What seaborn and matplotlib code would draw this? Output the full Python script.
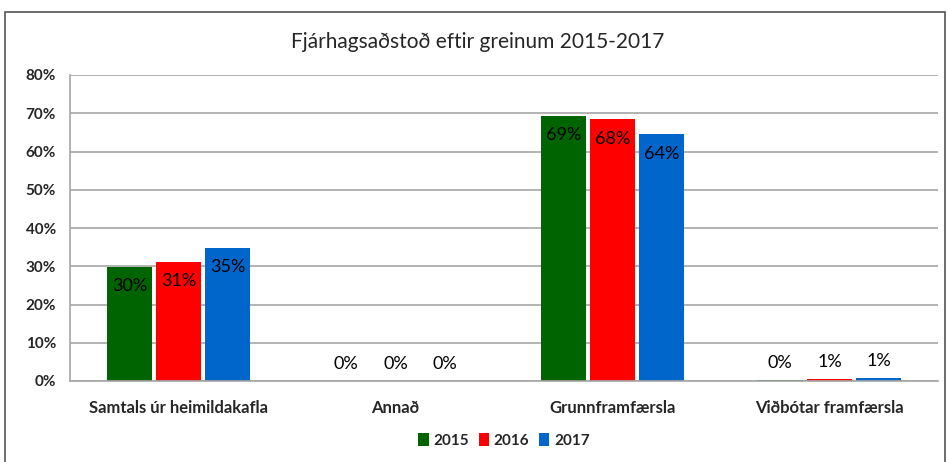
import matplotlib
matplotlib.use("Agg")
import matplotlib.pyplot as plt
import pandas as pd
import seaborn as sns
from matplotlib.patches import Rectangle
from matplotlib.ticker import PercentFormatter

sns.set_theme(style="white")
plt.rcParams['font.family'] = ['Lato', 'DejaVu Sans']

# gögn
flokkar = ['Samtals úr heimildakafla', 'Annað', 'Grunnframfærsla', 'Viðbótar framfærsla']
ar = ['2015', '2016', '2017']
gildi_2015 = [29.8, 0.0, 69.4, 0.3]
gildi_2016 = [31.1, 0.0, 68.4, 0.5]
gildi_2017 = [34.8, 0.0, 64.5, 0.8]
merki_2015 = ['30%', '0%', '69%', '0%']
merki_2016 = ['31%', '0%', '68%', '1%']
merki_2017 = ['35%', '0%', '64%', '1%']
litir = ['#006400', '#FF0000', '#0066CC']

data = pd.DataFrame({
    'flokkur': flokkar * 3,
    'ar': [a for a in ar for _ in flokkar],
    'gildi': gildi_2015 + gildi_2016 + gildi_2017,
})
merki = [merki_2015, merki_2016, merki_2017]

fig = plt.figure(figsize=(9.47, 4.62), dpi=100)
ax = fig.add_axes([70 / 947, 81 / 462, 868 / 947, 306 / 462])

sns.barplot(data=data, x='flokkur', y='gildi', hue='ar', palette=litir,
            width=0.68, gap=0.08, linewidth=0, saturation=1, ax=ax)

ax.set_ylim(0, 80)
ax.set_xlim(-0.5, 3.5)
ax.set_yticks(range(0, 81, 10))
ax.yaxis.set_major_formatter(PercentFormatter(decimals=0))
ax.grid(axis='y', color='#A6A6A6', linewidth=1.2)
ax.set_axisbelow(True)
ax.set_xlabel('')
ax.set_ylabel('')
for s in ['top', 'right']:
    ax.spines[s].set_visible(False)
for s in ['left', 'bottom']:
    ax.spines[s].set_color('#A6A6A6')
    ax.spines[s].set_linewidth(1.2)
ax.tick_params(axis='y', length=0, pad=10, labelsize=11)
ax.tick_params(axis='x', length=0, pad=14, labelsize=12)
for t in ax.get_xticklabels() + ax.get_yticklabels():
    t.set_fontweight('bold')

# gildismerki
for cont, lab in zip(ax.containers, merki):
    for bar, txt in zip(cont, lab):
        h = bar.get_height()
        x = bar.get_x() + bar.get_width() / 2
        dy = -14 if h > 5 else 12
        ax.annotate(txt, (x, h), xytext=(0, dy), textcoords='offset points',
                    ha='center', va='center', fontsize=13, color='black')

ax.legend(loc='center', bbox_to_anchor=(0.5, -0.195), ncol=3, frameon=False,
          handlelength=0.7, handleheight=0.9, handletextpad=0.3, columnspacing=0.6,
          prop={'weight': 'bold', 'size': 11})

fig.text(478 / 947, 1 - 42 / 462, 'Fjárhagsaðstoð eftir greinum 2015-2017',
         ha='center', va='center', fontsize=15)

fig.patches.append(Rectangle((5 / 947, -0.02), 940 / 947, 1.02 - 12 / 462,
                             transform=fig.transFigure, fill=False,
                             edgecolor='#555555', linewidth=1.2))

fig.savefig('out.png', dpi=100)
